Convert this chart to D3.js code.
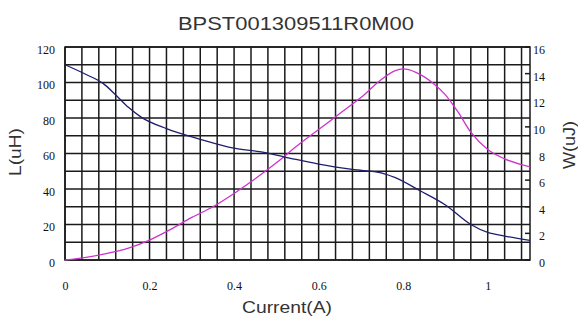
<!DOCTYPE html>
<html>
<head>
<meta charset="utf-8">
<script src="https://cdn.jsdelivr.net/npm/d3@7"></script>
<style>
  body { margin: 0; background: #fff; }
  .tick text { font-family: "Liberation Serif", serif; font-size: 12px; fill: #111; }
  .title { font-family: "Liberation Sans", Arial, sans-serif; fill: #333; }
</style>
</head>
<body>
<div id="chart"></div>
<script>
// DATA
var title = "BPST001309511R0M00";
var xTicks = [0, 0.2, 0.4, 0.6, 0.8, 1];
var leftTicks = [0, 20, 40, 60, 80, 100, 120];
var rightTicks = [0, 2, 4, 6, 8, 10, 12, 14, 16];

// inductance L(uH) vs current
var lCurrent = [0, 0.05, 0.09, 0.12, 0.15, 0.18, 0.24, 0.32, 0.40, 0.46, 0.52, 0.60, 0.68, 0.75, 0.78, 0.84, 0.90, 0.96, 1.0, 1.04, 1.1];
var lValues  = [110, 104.5, 99.5, 93, 86, 80.5, 74, 68, 63, 61, 58, 54, 51, 49, 46.5, 39, 31, 20, 15.5, 13.5, 11];

// energy W(uJ) vs current
var wCurrent = [0, 0.05, 0.1, 0.15, 0.2, 0.25, 0.3, 0.35, 0.4, 0.45, 0.5, 0.55, 0.6, 0.65, 0.7, 0.75, 0.78, 0.8, 0.83, 0.87, 0.9, 0.93, 0.96, 1.0, 1.04, 1.1];
var wValues  = [0, 0.2, 0.5, 0.9, 1.5, 2.3, 3.2, 4.0, 5.0, 6.1, 7.3, 8.6, 9.8, 11.0, 12.2, 13.6, 14.2, 14.35, 14.1, 13.3, 12.4, 11.1, 9.6, 8.3, 7.6, 7.0];

var W = 578, H = 325;
var margin = {top: 47, right: 48, bottom: 65, left: 65};
var width = W - margin.left - margin.right;
var height = H - margin.top - margin.bottom;

var svg = d3.select("#chart").append("svg")
  .attr("width", W)
  .attr("height", H);

var g = svg.append("g")
  .attr("transform", "translate(" + margin.left + "," + margin.top + ")");

// SCALES
var xScale = d3.scaleLinear().domain([0, 1.1]).range([0, width]);
var yLeft = d3.scaleLinear().domain([0, 120]).range([height, 0]);
var yRight = d3.scaleLinear().domain([0, 16]).range([height, 0]);

// GRID
var vGrid = d3.range(0, 1.1, 0.04);
var hGrid = d3.range(0, 121, 10);

g.append("g").selectAll("line").data(vGrid).enter().append("line")
  .attr("x1", function (d) { return xScale(d); })
  .attr("x2", function (d) { return xScale(d); })
  .attr("y1", 0).attr("y2", height)
  .attr("stroke", "#1a1a1a").attr("stroke-width", 1.5);

g.append("g").selectAll("line").data(hGrid).enter().append("line")
  .attr("y1", function (d) { return yLeft(d); })
  .attr("y2", function (d) { return yLeft(d); })
  .attr("x1", 0).attr("x2", width)
  .attr("stroke", "#1a1a1a").attr("stroke-width", 1.5);

g.append("rect")
  .attr("width", width).attr("height", height)
  .attr("fill", "none").attr("stroke", "#1a1a1a").attr("stroke-width", 1.5);

// right axis inward ticks
g.append("g").selectAll("line").data(rightTicks).enter().append("line")
  .attr("x1", width - 5).attr("x2", width)
  .attr("y1", function (d) { return yRight(d); })
  .attr("y2", function (d) { return yRight(d); })
  .attr("stroke", "#1a1a1a").attr("stroke-width", 1.5);

// AXES (labels only)
var xAxis = d3.axisBottom(xScale).tickValues(xTicks).tickSize(0).tickPadding(21)
  .tickFormat(function (d) { return (d === 0 || d === 1) ? String(d) : d3.format(".1f")(d); });
g.append("g").attr("transform", "translate(0," + height + ")").call(xAxis)
  .call(function (a) { a.select(".domain").remove(); });

var lAxis = d3.axisLeft(yLeft).tickValues(leftTicks).tickSize(0).tickPadding(10);
g.append("g").call(lAxis)
  .call(function (a) { a.select(".domain").remove(); })
  .selectAll("text").attr("dy", "0.5em");

var rAxis = d3.axisRight(yRight).tickValues(rightTicks).tickSize(0).tickPadding(14);
g.append("g").attr("transform", "translate(" + width + ",0)").call(rAxis)
  .call(function (a) { a.select(".domain").remove(); })
  .selectAll("text").attr("dy", "0.55em").attr("text-anchor", "end").attr("x", 15);

// LINES
var lLine = d3.line()
  .x(function (d, i) { return xScale(lCurrent[i]); })
  .y(function (d) { return yLeft(d); })
  .curve(d3.curveMonotoneX);

var wLine = d3.line()
  .x(function (d, i) { return xScale(wCurrent[i]); })
  .y(function (d) { return yRight(d); })
  .curve(d3.curveMonotoneX);

g.append("path").datum(wValues)
  .attr("d", wLine)
  .attr("fill", "none").attr("stroke", "#cc33cc").attr("stroke-width", 1.3);

g.append("path").datum(lValues)
  .attr("d", lLine)
  .attr("fill", "none").attr("stroke", "#1e1e6e").attr("stroke-width", 1.3);

// TITLES
svg.append("text").attr("class", "title")
  .attr("x", 296).attr("y", 30)
  .attr("text-anchor", "middle")
  .attr("font-size", 19)
  .attr("textLength", 236).attr("lengthAdjust", "spacingAndGlyphs")
  .text(title);

svg.append("text").attr("class", "title")
  .attr("x", 287).attr("y", 313)
  .attr("text-anchor", "middle")
  .attr("font-size", 16)
  .attr("textLength", 90).attr("lengthAdjust", "spacingAndGlyphs")
  .text("Current(A)");

svg.append("text").attr("class", "title")
  .attr("transform", "translate(21,152) rotate(-90)")
  .attr("text-anchor", "middle")
  .attr("font-size", 16)
  .attr("textLength", 48).attr("lengthAdjust", "spacingAndGlyphs")
  .text("L(uH)");

svg.append("text").attr("class", "title")
  .attr("transform", "translate(575,145) rotate(-90)")
  .attr("text-anchor", "middle")
  .attr("font-size", 16)
  .attr("textLength", 48).attr("lengthAdjust", "spacingAndGlyphs")
  .text("W(uJ)");
</script>
</body>
</html>
